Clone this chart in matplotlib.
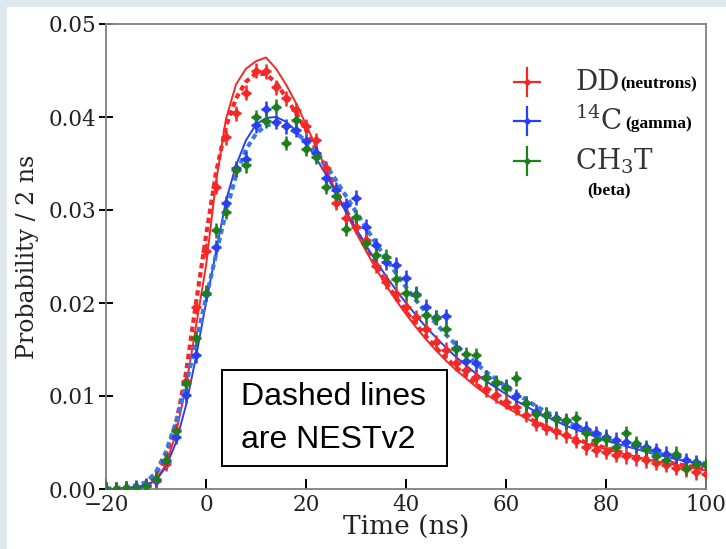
import numpy as np
import matplotlib
matplotlib.use("Agg")
import matplotlib.pyplot as plt
from matplotlib.patches import Rectangle

# bin centres (ns)
time_ns = np.arange(-20, 101, 2)

# measured pulse shapes, probability per 2 ns bin
dd_points = [
    0.0000, 0.0000, 0.0001, 0.0001, 0.0003, 0.0009, 0.0027, 0.0063, 0.0116, 0.0196,
    0.0256, 0.0325, 0.0378, 0.0404, 0.0426, 0.0450, 0.0449, 0.0432, 0.0420, 0.0407,
    0.0390, 0.0375, 0.0345, 0.0308, 0.0291, 0.0282, 0.0268, 0.0240, 0.0223, 0.0210,
    0.0196, 0.0185, 0.0172, 0.0158, 0.0150, 0.0135, 0.0128, 0.0120, 0.0107, 0.0101,
    0.0094, 0.0088, 0.0080, 0.0070, 0.0066, 0.0062, 0.0058, 0.0052, 0.0045, 0.0042,
    0.0040, 0.0037, 0.0035, 0.0033, 0.0031, 0.0028, 0.0026, 0.0023, 0.0021, 0.0018,
    0.0016]
c14_points = [
    0.0000, 0.0000, 0.0001, 0.0002, 0.0004, 0.0010, 0.0030, 0.0056, 0.0101, 0.0144,
    0.0210, 0.0260, 0.0307, 0.0345, 0.0355, 0.0391, 0.0409, 0.0395, 0.0390, 0.0386,
    0.0374, 0.0361, 0.0334, 0.0322, 0.0305, 0.0313, 0.0282, 0.0262, 0.0244, 0.0241,
    0.0227, 0.0210, 0.0196, 0.0185, 0.0186, 0.0152, 0.0138, 0.0135, 0.0120, 0.0114,
    0.0110, 0.0100, 0.0092, 0.0083, 0.0080, 0.0076, 0.0073, 0.0068, 0.0065, 0.0060,
    0.0056, 0.0053, 0.0051, 0.0047, 0.0045, 0.0042, 0.0038, 0.0035, 0.0031, 0.0029,
    0.0026]
ch3t_points = [
    0.0000, 0.0000, 0.0001, 0.0001, 0.0003, 0.0011, 0.0031, 0.0062, 0.0114, 0.0162,
    0.0211, 0.0278, 0.0298, 0.0343, 0.0348, 0.0400, 0.0396, 0.0411, 0.0372, 0.0397,
    0.0366, 0.0357, 0.0325, 0.0315, 0.0280, 0.0292, 0.0265, 0.0252, 0.0250, 0.0226,
    0.0211, 0.0209, 0.0187, 0.0184, 0.0172, 0.0151, 0.0145, 0.0144, 0.0119, 0.0115,
    0.0109, 0.0119, 0.0092, 0.0081, 0.0080, 0.0075, 0.0074, 0.0076, 0.0060, 0.0053,
    0.0054, 0.0045, 0.0060, 0.0049, 0.0043, 0.0035, 0.0031, 0.0038, 0.0023, 0.0027,
    0.0027]
point_yerr = 0.0008
point_xerr = 1.0

# fitted shapes (solid) and NESTv2 (dashed)
dd_fit = [
    0.0000, 0.0000, 0.0001, 0.0002, 0.0004, 0.0010, 0.0026, 0.0060, 0.0110, 0.0175,
    0.0240, 0.0330, 0.0398, 0.0435, 0.0452, 0.0460, 0.0464, 0.0452, 0.0435, 0.0415,
    0.0392, 0.0368, 0.0344, 0.0320, 0.0298, 0.0276, 0.0256, 0.0237, 0.0219, 0.0203,
    0.0188, 0.0174, 0.0161, 0.0149, 0.0138, 0.0128, 0.0119, 0.0110, 0.0102, 0.0095,
    0.0088, 0.0082, 0.0076, 0.0071, 0.0066, 0.0061, 0.0057, 0.0053, 0.0049, 0.0046,
    0.0043, 0.0040, 0.0037, 0.0035, 0.0032, 0.0030, 0.0028, 0.0026, 0.0024, 0.0022,
    0.0020]
dd_nest = [
    0.0000, 0.0000, 0.0001, 0.0003, 0.0007, 0.0016, 0.0035, 0.0070, 0.0125, 0.0200,
    0.0272, 0.0340, 0.0390, 0.0420, 0.0438, 0.0447, 0.0446, 0.0437, 0.0421, 0.0404,
    0.0386, 0.0366, 0.0345, 0.0322, 0.0300, 0.0279, 0.0259, 0.0240, 0.0222, 0.0206,
    0.0191, 0.0177, 0.0164, 0.0152, 0.0141, 0.0131, 0.0122, 0.0113, 0.0105, 0.0097,
    0.0090, 0.0084, 0.0078, 0.0072, 0.0067, 0.0062, 0.0058, 0.0054, 0.0050, 0.0047,
    0.0044, 0.0041, 0.0038, 0.0035, 0.0033, 0.0031, 0.0029, 0.0027, 0.0025, 0.0023,
    0.0021]
c14_fit = [
    0.0000, 0.0000, 0.0001, 0.0002, 0.0004, 0.0009, 0.0024, 0.0050, 0.0090, 0.0142,
    0.0200, 0.0255, 0.0310, 0.0348, 0.0375, 0.0392, 0.0399, 0.0400, 0.0395, 0.0385,
    0.0372, 0.0356, 0.0338, 0.0318, 0.0298, 0.0280, 0.0262, 0.0245, 0.0229, 0.0214,
    0.0200, 0.0187, 0.0174, 0.0163, 0.0152, 0.0142, 0.0133, 0.0124, 0.0116, 0.0109,
    0.0102, 0.0095, 0.0089, 0.0083, 0.0078, 0.0073, 0.0068, 0.0064, 0.0060, 0.0056,
    0.0052, 0.0049, 0.0046, 0.0043, 0.0040, 0.0037, 0.0035, 0.0032, 0.0030, 0.0028,
    0.0026]
c14_nest = [
    0.0000, 0.0001, 0.0002, 0.0004, 0.0007, 0.0018, 0.0040, 0.0072, 0.0112, 0.0158,
    0.0205, 0.0252, 0.0298, 0.0337, 0.0365, 0.0382, 0.0391, 0.0393, 0.0390, 0.0383,
    0.0374, 0.0362, 0.0348, 0.0332, 0.0315, 0.0298, 0.0281, 0.0264, 0.0248, 0.0232,
    0.0217, 0.0203, 0.0190, 0.0178, 0.0166, 0.0155, 0.0145, 0.0135, 0.0126, 0.0118,
    0.0110, 0.0103, 0.0096, 0.0089, 0.0083, 0.0078, 0.0072, 0.0068, 0.0063, 0.0059,
    0.0055, 0.0051, 0.0048, 0.0045, 0.0042, 0.0039, 0.0036, 0.0034, 0.0031, 0.0029,
    0.0027]

RED = "#f52828"
BLUE = "#2a3ff0"
BLUE_NEST = "#3a78e6"
GREEN = "#1f7f1f"

plt.rcParams["font.family"] = "DejaVu Serif"
plt.rcParams["mathtext.fontset"] = "dejavuserif"

fig = plt.figure(figsize=(7.26, 5.49), dpi=100, facecolor="#dce7ee")
fig.patches.append(Rectangle((7 / 726, 0), 1, 1 - 7 / 549, transform=fig.transFigure,
                             facecolor="white", edgecolor="none", zorder=-5))
ax = fig.add_axes([106 / 726, 1 - 489 / 549, 600 / 726, 465 / 549])
ax.set_facecolor("white")

ax.plot(time_ns, dd_fit, color=RED, lw=1.4, zorder=3)
ax.plot(time_ns, dd_nest, color=RED, lw=3, dashes=(1.3, 0.9), zorder=3)
ax.plot(time_ns, c14_fit, color=BLUE, lw=1.4, zorder=3)
ax.plot(time_ns, c14_nest, color=BLUE_NEST, lw=3, dashes=(1.3, 0.9), zorder=3)

for vals, col in [(dd_points, RED), (c14_points, BLUE), (ch3t_points, GREEN)]:
    ax.errorbar(time_ns, vals, xerr=point_xerr, yerr=point_yerr, fmt="D", ms=3.8,
                color=col, ecolor=col, elinewidth=1.8, capsize=0, zorder=4)

ax.set_xlim(-20, 100)
ax.set_ylim(0, 0.05)
ax.set_xticks(np.arange(-20, 101, 20))
ax.set_yticks(np.arange(0, 0.051, 0.01))
ax.yaxis.set_major_formatter(plt.FormatStrFormatter("%.2f"))
ax.tick_params(direction="in", length=7, width=1.4, labelsize=15.5, colors="black",
               labelcolor="#222222")
ax.tick_params(axis="y", direction="inout", length=10, pad=2)
for s in ax.spines.values():
    s.set_color("#808080")
    s.set_linewidth(1.3)
ax.set_xlabel("Time (ns)", fontsize=19, color="#222222")
ax.set_ylabel("Probability / 2 ns", fontsize=17, color="#222222")
ax.xaxis.set_label_coords(0.5, -0.056)
ax.yaxis.set_label_coords(-0.112, 0.5)

# hand-drawn legend
tr = ax.transAxes
leg_items = [(0.875, RED, "DD"),
             (0.791, BLUE, "$^{14}$C"),
             (0.705, GREEN, "CH$_3$T")]
for yy, col, big in leg_items:
    ax.plot([0.68, 0.724], [yy, yy], color=col, lw=1.6, transform=tr, zorder=5)
    ax.plot([0.702, 0.702], [yy - 0.03, yy + 0.03], color=col, lw=1.6, transform=tr, zorder=5)
    ax.plot([0.702], [yy], "D", ms=3, color=col, transform=tr, zorder=5)
    ax.text(0.782, yy, big, transform=tr, fontsize=20, va="center", ha="left",
            color="#333333")
ax.text(0.857, 0.870, "(neutrons)", transform=tr, fontsize=12.5, fontweight="bold",
        family="Liberation Serif", va="center", ha="left")
ax.text(0.865, 0.785, "(gamma)", transform=tr, fontsize=12.5, fontweight="bold",
        family="Liberation Serif", va="center", ha="left")
ax.text(0.802, 0.643, "(beta)", transform=tr, fontsize=12.5, fontweight="bold",
        family="Liberation Serif", va="center", ha="left")

# note box
ax.add_patch(Rectangle((0.193, 0.049), 0.375, 0.207, transform=tr, facecolor="white",
                       edgecolor="black", lw=1.4, zorder=6))
ax.text(0.225, 0.198, "Dashed lines", transform=tr, fontsize=23,
        family="Liberation Sans", va="center", ha="left", zorder=7)
ax.text(0.225, 0.105, "are NESTv2", transform=tr, fontsize=23,
        family="Liberation Sans", va="center", ha="left", zorder=7)

fig.savefig("out.png", dpi=100, facecolor=fig.get_facecolor())
